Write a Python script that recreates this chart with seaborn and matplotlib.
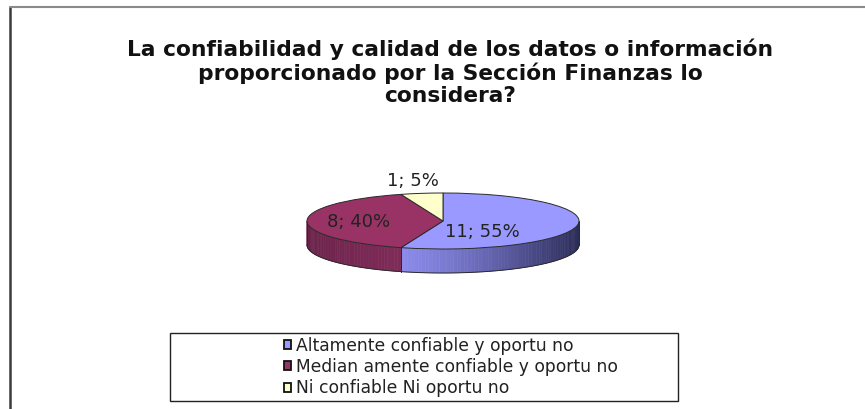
import numpy as np
import matplotlib
matplotlib.use("Agg")
import matplotlib.pyplot as plt
from matplotlib.patches import Patch, Rectangle, Polygon
from matplotlib.lines import Line2D
import matplotlib.colors as mcolors
import seaborn as sns

# ---- data ----
categories = ["Altamente confiable y oportuno",
              "Medianamente confiable y oportuno",
              "Ni confiable Ni oportuno"]
legend_labels = ["Altamente confiable y oportu no",
                 "Median amente confiable y oportu no",
                 "Ni confiable Ni oportu no"]
counts = [11, 8, 1]
percents = [55, 40, 5]
top_colors = ["#9999FF", "#993366", "#FFFFCC"]
side_light = ["#8A8AEA", "#862F5E", "#E6E6B0"]
side_dark = ["#2C2C58", "#6A2249", "#B0B080"]
title = "La confiabilidad y calidad de los datos o información\nproporcionado por la Sección Finanzas lo\nconsidera?"

sns.set_theme(style="white")
plt.rcParams["font.family"] = ["DejaVu Sans"]

W, H = 865, 409
fig = plt.figure(figsize=(W / 100, H / 100), dpi=100)
fig.patch.set_facecolor("white")

# pie geometry in pixels
cx, cy, rx, ry, depth = 443, 221, 136, 28, 24
ax = fig.add_axes([0, 0, 1, 1])

wedges, _ = ax.pie(counts, colors=top_colors, startangle=90, counterclock=False,
                   radius=1.0, center=(0, 0), frame=False,
                   wedgeprops=dict(edgecolor="#2a2a2a", linewidth=0.7, zorder=3))
ax.set_aspect("auto")
ax.set_xlim((0 - cx) / rx, (W - cx) / rx)
ax.set_ylim((cy - H) / ry, cy / ry)
ax.axis("off")

d = depth / ry  # depth in y-data units

def norm_range(t1, t2):
    out = []
    for shift in (-360, 0, 360):
        a, b = t1 + shift, t2 + shift
        lo, hi = max(a, 180), min(b, 360)
        if hi > lo:
            out.append((lo, hi))
    return out

for i, w in enumerate(wedges):
    for (a, b) in norm_range(w.theta1, w.theta2):
        n = max(int((b - a) / 1.5), 2)
        edges_t = np.linspace(a, b, n + 1)
        c1 = np.array(mcolors.to_rgb(side_light[i]))
        c2 = np.array(mcolors.to_rgb(side_dark[i]))
        for k in range(n):
            t0, t1_ = np.radians(edges_t[k]), np.radians(edges_t[k + 1])
            tt = np.linspace(t0, t1_, 4)
            xs = np.concatenate([np.cos(tt), np.cos(tt[::-1])])
            ys = np.concatenate([np.sin(tt), np.sin(tt[::-1]) - d])
            mid = (edges_t[k] + edges_t[k + 1]) / 2
            f = (np.cos(np.radians(mid)) + 1) / 2
            if i == 0:
                f = np.clip((np.cos(np.radians(mid)) - np.cos(np.radians(a))) /
                            (1 - np.cos(np.radians(a)) + 1e-9), 0, 1) ** 1.3
            else:
                f = (1 - f) ** 3
            col = c1 * (1 - f) + c2 * f
            ax.add_patch(Polygon(np.column_stack([xs, ys]), closed=True,
                                 facecolor=col, edgecolor=col, linewidth=0.4, zorder=1))
        tt = np.radians(np.linspace(a, b, 60))
        ax.plot(np.cos(tt), np.sin(tt) - d, color="#2a2a2a", lw=0.7, zorder=2)
        for t in (a, b):
            tr = np.radians(t)
            ax.plot([np.cos(tr), np.cos(tr)], [np.sin(tr), np.sin(tr) - d],
                    color="#2a2a2a", lw=0.7, zorder=2)

# slice labels
label_pos = [(0.29, -0.40), (-0.62, -0.04), (-0.22, 1.42)]
for i in range(len(counts)):
    ax.text(label_pos[i][0], label_pos[i][1], f"{counts[i]}; {percents[i]}%",
            ha="center", va="center", fontsize=13, color="#222222", zorder=5)

# title
fig.text(450 / W, 1 - 72 / H, title, ha="center", va="center",
         fontsize=15.7, fontweight="bold", color="#111111", linespacing=1.14)

# legend box
fig.add_artist(Rectangle((170 / W, (H - 401) / H), 508 / W, 68 / H,
                         transform=fig.transFigure, facecolor="white",
                         edgecolor="#222222", linewidth=1.0))
handles = [Patch(facecolor=top_colors[i], edgecolor="#111111", linewidth=1.3)
           for i in range(len(categories))]
leg = fig.legend(handles, legend_labels, loc="center left",
                 bbox_to_anchor=(275 / W, (H - 367) / H), frameon=False,
                 fontsize=12.3, handlelength=0.42, handleheight=0.42,
                 handletextpad=0.3, labelspacing=0.2, borderpad=0)
for t in leg.get_texts():
    t.set_color("#222222")

# outer border (left and top)
fig.add_artist(Line2D([9.5 / W, 9.5 / W], [0, 1 - 7 / H], transform=fig.transFigure,
                      color="#3a3a3a", lw=1.8))
fig.add_artist(Line2D([9.5 / W, 1], [1 - 7 / H, 1 - 7 / H], transform=fig.transFigure,
                      color="#8a8a8a", lw=1.5))

fig.savefig("out.png", dpi=100, facecolor="white")
